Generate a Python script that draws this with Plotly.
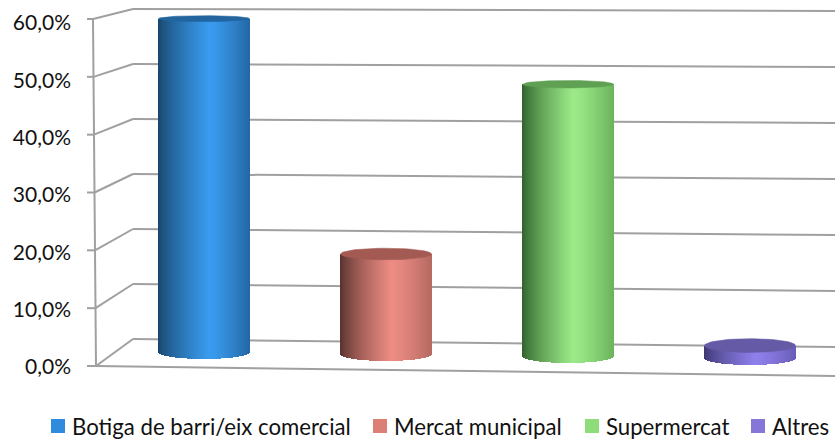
import numpy as np
import plotly.graph_objects as go

WIDTH, HEIGHT = 835, 439

categories = ["Botiga de barri/eix comercial", "Mercat municipal", "Supermercat", "Altres"]
values = [59.0, 17.7, 48.1, 2.2]
tick_values = [0, 10, 20, 30, 40, 50, 60]
tick_labels = ["0,0%", "10,0%", "20,0%", "30,0%", "40,0%", "50,0%", "60,0%"]

# Cylinder shading stops: left edge, highlight, right edge, top cap, legend swatch
shades = [
    ("#174468", "#3A9CF0", "#2568A6", "#22659F", "#2E8BDD"),
    ("#55302C", "#EE8D84", "#B56A62", "#A25A53", "#DC8077"),
    ("#2E5F2C", "#9CEB88", "#6CB45E", "#5FA052", "#8FDC7B"),
    ("#3C3670", "#8F80EC", "#6A5EB8", "#655AA6", "#8676D8"),
]
legend_x = [51, 373, 585, 751]

SPACING = 182.0   # pixels between category centres
CENTER0 = 204.0   # pixel centre of first cylinder
HALF = 45.5       # cylinder half-width in pixels
BACK_SCALE = 5.65 # pixels per percentage point at cylinder depth
BASE_Y0 = 352.0   # pixel row of the first cylinder's base centre
BASE_SLOPE = 2.0  # floor drop per category in pixels
LABEL_SCALE = 5.733  # pixels per percentage point on the labelled front axis
LABEL_ZERO = 367.0   # pixel row of the front axis zero label


def hex_rgb(c):
    return np.array([int(c[i:i + 2], 16) for i in (1, 3, 5)], dtype=float)


def strip_color(t, left, mid, right):
    """Colour across the cylinder, t from -1 (left) to 1 (right)."""
    peak = 0.12
    if t < peak:
        a = (t + 1) / (peak + 1)
        c = hex_rgb(left) + (hex_rgb(mid) - hex_rgb(left)) * a ** 0.75
    else:
        a = (t - peak) / (1 - peak)
        c = hex_rgb(mid) + (hex_rgb(right) - hex_rgb(mid)) * a ** 1.3
    return "rgb(%d,%d,%d)" % tuple(c)


def px(x):
    return x / WIDTH


def py(y):
    return 1 - y / HEIGHT


def line(x0, y0, x1, y1):
    return dict(type="line", xref="paper", yref="paper", layer="below",
                x0=px(x0), y0=py(y0), x1=px(x1), y1=py(y1),
                line=dict(color="#A0A0A0", width=2))


# Box frame: left wall, back wall and floor in a slight perspective
shapes = []
for v in tick_values:
    f = v / 60
    front_x = 96 - 3 * f
    front_y = 366 - 347 * f
    back_y = 339 - 330 * f
    right_y = back_y + 8 - 6 * f
    shapes.append(line(87, front_y, front_x, front_y))
    shapes.append(line(front_x, front_y, 133, back_y))
    shapes.append(line(133, back_y, WIDTH, right_y))
shapes.append(line(93, 19, 96, 366))
shapes.append(line(96, 366, WIDTH, 376))

fig = go.Figure()

# Invisible trace that keeps the labelled front axis alive
fig.add_trace(go.Scatter(x=[0], y=[0], mode="markers", marker=dict(opacity=0),
                         showlegend=False, hoverinfo="skip", yaxis="y"))

for i, (name, value) in enumerate(zip(categories, values)):
    left, mid, right, cap, swatch = shades[i]
    base_px = i * BASE_SLOPE
    base_val = -base_px / BACK_SCALE
    top_val = base_val + value
    ry_bottom = 7.0 / BACK_SCALE
    top_py = BASE_Y0 + base_px - value * BACK_SCALE
    ry_top = (2.8 + 4.2 * top_py / 352) / BACK_SCALE

    ts = (np.arange(int(2 * HALF)) + 0.5) / HALF - 1
    xs = i + ts * HALF / SPACING
    lows = base_val - ry_bottom * np.sqrt(1 - ts ** 2)
    fig.add_trace(go.Bar(
        x=xs, base=lows, y=top_val - lows, width=1.0 / SPACING, yaxis="y2",
        marker=dict(color=[strip_color(t, left, mid, right) for t in ts], line=dict(width=0)),
        name=name, showlegend=False, hoverinfo="skip"))

    # Elliptical top of the cylinder
    theta = np.linspace(0, 2 * np.pi, 73)
    fig.add_trace(go.Scatter(
        x=i + np.cos(theta) * HALF / SPACING,
        y=top_val + np.sin(theta) * ry_top,
        mode="lines", fill="toself", fillcolor=cap, line=dict(color=cap, width=0.5),
        yaxis="y2", showlegend=False, hoverinfo="skip"))

    # Legend swatch and label
    shapes.append(dict(type="rect", xref="paper", yref="paper",
                       x0=px(legend_x[i]), x1=px(legend_x[i] + 14),
                       y0=py(433), y1=py(419),
                       fillcolor=swatch, line=dict(width=0)))

annotations = [
    dict(text=name, xref="paper", yref="paper", x=px(legend_x[i] + 18.5), y=py(426),
         xanchor="left", yanchor="middle", showarrow=False,
         font=dict(family="Lato", size=22.2, color="#111111"))
    for i, name in enumerate(categories)
]

fig.update_layout(
    width=WIDTH, height=HEIGHT, margin=dict(l=0, r=0, t=0, b=0),
    paper_bgcolor="white", plot_bgcolor="white",
    barmode="overlay", bargap=0, shapes=shapes, annotations=annotations,
    showlegend=False,
    xaxis=dict(range=[-CENTER0 / SPACING, (WIDTH - CENTER0) / SPACING],
               domain=[0, 1], visible=False, fixedrange=True),
    yaxis=dict(range=[-(HEIGHT - LABEL_ZERO) / LABEL_SCALE, LABEL_ZERO / LABEL_SCALE], domain=[0, 1],
               anchor="free", position=px(71), side="left",
               tickmode="array", tickvals=tick_values, ticktext=tick_labels,
               showgrid=False, zeroline=False, showline=False, ticks="",
               tickfont=dict(family="Lato", size=21, color="#111111"), fixedrange=True),
    yaxis2=dict(range=[-(HEIGHT - BASE_Y0) / BACK_SCALE, BASE_Y0 / BACK_SCALE],
                domain=[0, 1], overlaying="y", visible=False, fixedrange=True),
)

fig.write_html("out.html", config=dict(displayModeBar=False))
